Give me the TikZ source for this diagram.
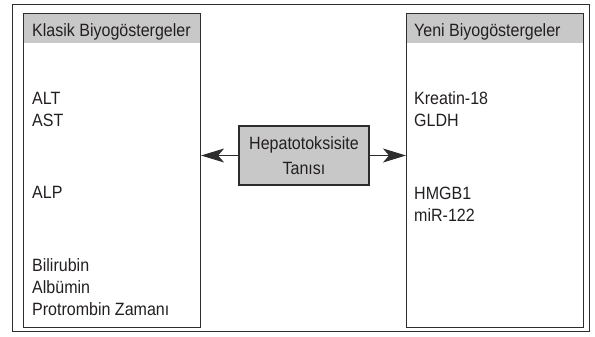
\documentclass[tikz,border=0pt]{standalone}
\usepackage{fontspec}
\setmainfont{Liberation Sans}[FakeStretch=0.9]
\usetikzlibrary{positioning,arrows.meta}
\definecolor{hpGray}{RGB}{200,200,200}
\definecolor{hpLine}{RGB}{45,45,45}
\definecolor{hpText}{RGB}{35,31,32}

\tikzset{
  panel/.style={draw=hpLine, line width=1.1pt, anchor=north west, inner sep=0pt},
  headband/.style={fill=hpGray, anchor=north west, inner sep=0pt},
  item/.style={anchor=base west, inner sep=0pt, text=hpText, font=\fontsize{17.8}{22}\selectfont},
  tanibox/.style={draw=hpLine, line width=1.1pt, fill=hpGray, align=center, text=hpText,
    minimum width=130pt, minimum height=59pt, inner sep=0pt, font=\fontsize{17.8}{25}\selectfont},
  linkarrow/.style={draw=hpLine, line width=1pt, -{Stealth[length=23pt,width=14pt,inset=6pt]}}
}

\begin{document}
\begin{tikzpicture}[x=1pt, y=-1pt]
  \useasboundingbox (0,0) rectangle (595,337);

  % Outer frame
  \draw[hpLine, line width=1pt] (12,5) rectangle (589,331);

  % Header bands
  \node[headband, minimum width=177pt, minimum height=30pt] (klasikhead) at (23,13) {};
  \node[headband, minimum width=177pt, minimum height=30pt] (yenihead) at (406,13) {};

  % Panels
  \node[panel, minimum width=177pt, minimum height=314pt] (klasik) at (23,13) {};
  \node[panel, minimum width=177pt, minimum height=314pt] (yeni) at (406,13) {};

  % Titles
  \node[item] (klasiktitle) at (32,37) {Klasik Biyogöstergeler};
  \node[item] (yenititle) at (414,37) {Yeni Biyogöstergeler};

  % Classic markers
  \node[item] (alt) at (32,105) {ALT};
  \node[item] (ast) at (32,127) {AST};
  \node[item] (alp) at (32,198) {ALP};
  \node[item] (bilirubin) at (32,271) {Bilirubin};
  \node[item] (albumin) at (32,293) {Albümin};
  \node[item] (protrombin) at (32,315) {Protrombin Zamanı};

  % New markers
  \node[item] (kreatin) at (414,105) {Kreatin-18};
  \node[item] (gldh) at (414,127) {GLDH};
  \node[item] (hmgb) at (414,199) {HMGB1};
  \node[item] (mir) at (414,221) {miR-122};

  % Diagnosis box and arrows
  \node[tanibox] (tani) at (304,155.5) {Hepatotoksisite\\Tanısı};
  \draw[linkarrow] (tani.west) -- (tani.west -| klasik.east);
  \draw[linkarrow] (tani.east) -- (tani.east -| yeni.west);
\end{tikzpicture}
\end{document}
